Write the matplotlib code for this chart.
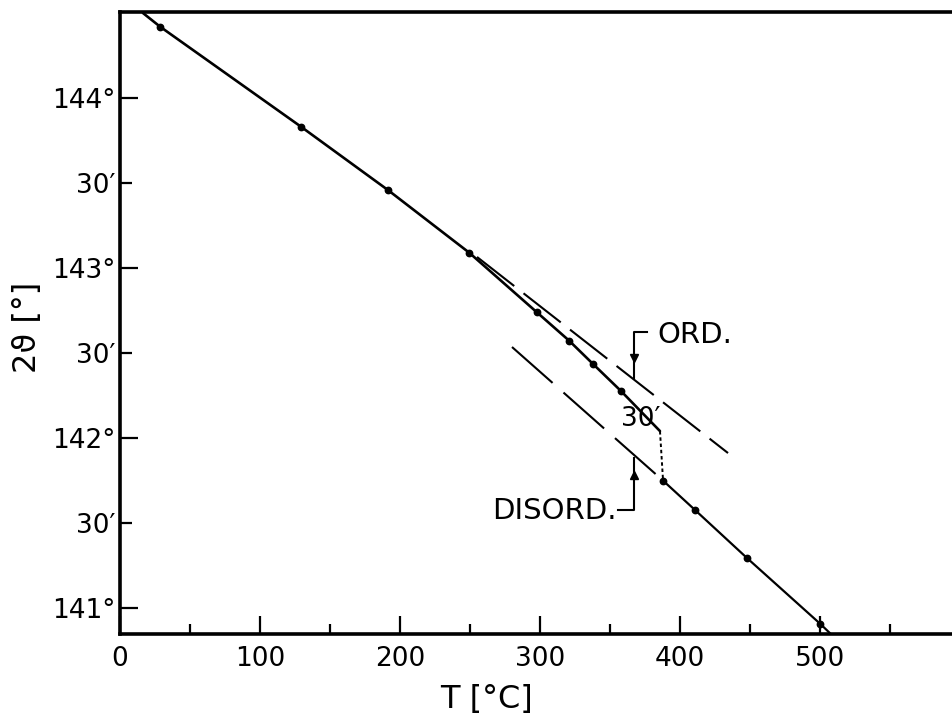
import matplotlib.pyplot as plt
from matplotlib.ticker import FixedLocator, FixedFormatter

plt.rcParams['font.family'] = ['DejaVu Sans']
plt.rcParams['lines.scale_dashes'] = False

# measured line positions, T in degC, 2theta in degrees
temp = [28.6, 129.3, 191.4, 249.3, 297.9, 320.7, 337.9, 357.9,
        387.9, 410.4, 447.9, 500.0]
two_theta = [144.418, 143.830, 143.458, 143.091, 142.739, 142.574, 142.436, 142.277,
             141.751, 141.581, 141.296, 140.911]
n_ord = 8  # first eight points belong to the ordered state

# where the drawn curves run out (frame edge / jump)
ord_start = (16.4, 144.498)
ord_end = (385.7, 142.042)
dis_end = (507.1, 140.855)

# extrapolated straight lines
ord_ext_t = [255.0, 434.3]
ord_ext_v = [143.065, 141.913]
dis_ext_t = [280.0, 387.9]
dis_ext_v = [142.536, 141.751]

y_major = [141, 142, 143, 144]
y_major_labels = ['141°', '142°', '143°', '144°']
y_minor = [141.5, 142.5, 143.5]
y_minor_labels = ['30′', '30′', '30′']
x_major = [0, 100, 200, 300, 400, 500]
x_minor = [50, 150, 250, 350, 450, 550]

fig = plt.figure(figsize=(9.52, 7.22), dpi=100)
ax = fig.add_axes([120 / 952, 88 / 722, 832 / 952, 622 / 722])
ax.set_xlim(0, 832 / 1.4)
ax.set_ylim(140.850, 144.504)

# ordered branch
ax.plot([ord_start[0]] + temp[:n_ord] + [ord_end[0]],
        [ord_start[1]] + two_theta[:n_ord] + [ord_end[1]],
        color='black', lw=1.9, solid_capstyle='round')
# disordered branch
ax.plot(temp[n_ord:] + [dis_end[0]], two_theta[n_ord:] + [dis_end[1]],
        color='black', lw=1.6)
ax.plot(temp, two_theta, 'o', color='black', ms=4.6)

# jump at the transition
ax.plot([ord_end[0], temp[n_ord]], [ord_end[1], two_theta[n_ord]],
        color='black', lw=1.4, dashes=(2.5, 2.0))

ax.plot(ord_ext_t, ord_ext_v, color='black', lw=1.5, dashes=(34, 8.5))
ax.plot(dis_ext_t, dis_ext_v, color='black', lw=1.5, dashes=(39, 10.5))

# labels with bracket arrows
ax.plot([376.4, 367.1, 367.1], [142.624, 142.624, 142.354], color='black', lw=1.5)
ax.plot([367.1], [142.471], 'v', color='black', ms=6)
ax.text(383.6, 142.606, 'ORD.', fontsize=21, ha='left', va='center')

ax.plot([355.7, 367.1, 367.1], [141.578, 141.578, 141.883], color='black', lw=1.5)
ax.plot([367.1], [141.784], '^', color='black', ms=6)
ax.text(355.0, 141.572, 'DISORD.', fontsize=21, ha='right', va='center')

ax.text(372.1, 142.113, '30′', fontsize=19, ha='center', va='center')

# axes styling
for side in ['left', 'top', 'bottom']:
    ax.spines[side].set_linewidth(2.6)
ax.spines['right'].set_visible(False)

ax.yaxis.set_major_locator(FixedLocator(y_major))
ax.yaxis.set_major_formatter(FixedFormatter(y_major_labels))
ax.yaxis.set_minor_locator(FixedLocator(y_minor))
ax.yaxis.set_minor_formatter(FixedFormatter(y_minor_labels))
ax.xaxis.set_major_locator(FixedLocator(x_major))
ax.xaxis.set_minor_locator(FixedLocator(x_minor))

ax.tick_params(axis='y', which='both', direction='in', labelsize=19, pad=3, width=1.6)
ax.tick_params(axis='y', which='major', length=13)
ax.tick_params(axis='y', which='minor', length=8.5)
ax.tick_params(axis='x', which='both', direction='in', labelsize=19, pad=9, width=1.6)
ax.tick_params(axis='x', which='major', length=13)
ax.tick_params(axis='x', which='minor', length=7)

ax.set_xlabel('T [°C]', fontsize=23)
ax.xaxis.set_label_coords(0.44, -0.106)
ax.xaxis.label.set_va('center')
ax.set_ylabel('2ϑ [°]', fontsize=23)
ax.yaxis.set_label_coords(-0.1106, 0.4936)
ax.yaxis.label.set_va('center')

fig.savefig('out.png', dpi=100)
